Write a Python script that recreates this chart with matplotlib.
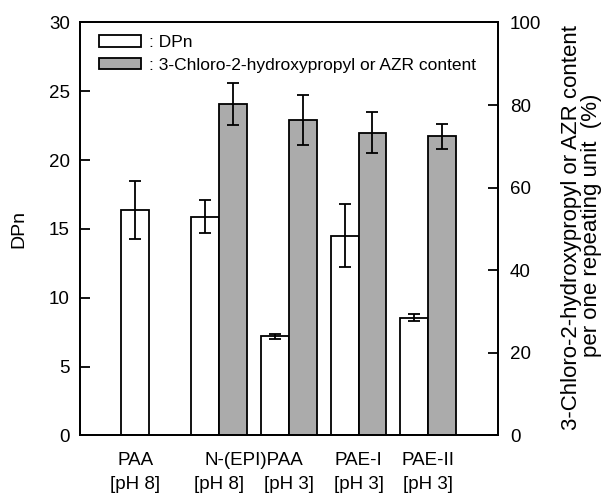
import matplotlib
matplotlib.use("Agg")
import matplotlib.pyplot as plt
from matplotlib.patches import Patch
from matplotlib.transforms import blended_transform_factory

plt.rcParams['font.family'] = ['Liberation Sans', 'DejaVu Sans']

# Data
groups = ["PAA", "N-(EPI)PAA [pH 8]", "N-(EPI)PAA [pH 3]", "PAE-I [pH 3]", "PAE-II [pH 3]"]
dpn = [16.4, 15.9, 7.2, 14.5, 8.55]
dpn_err = [2.1, 1.2, 0.2, 2.3, 0.25]
content_groups = [1, 2, 3, 4]
content = [80.2, 76.3, 73.3, 72.4]
content_err = [5.1, 6.1, 5.0, 3.1]
line1_labels = ["PAA", "N-(EPI)PAA", "PAE-I", "PAE-II"]
line1_pos = [-0.2, 1.5, 3, 4]
line2_labels = ["[pH 8]", "[pH 8]", "[pH 3]", "[pH 3]", "[pH 3]"]
line2_pos = [-0.2, 1, 2, 3, 4]

W, H = 610, 496
fig = plt.figure(figsize=(W / 100, H / 100), dpi=100)
ax = fig.add_axes([0.1305, 0.1222, 0.8164 - 0.1305, 0.9548 - 0.1222])
ax2 = ax.twinx()

lw = 1.3
w = 0.40
xs = list(range(len(groups)))
ax.bar([x - w / 2 for x in xs], dpn, width=w, color='white', edgecolor='black',
       linewidth=lw, yerr=dpn_err, capsize=4.3,
       error_kw=dict(elinewidth=lw, capthick=lw, ecolor='black'), zorder=2)
ax2.bar([x + w / 2 for x in content_groups], content, width=w, color='#ababab',
        edgecolor='black', linewidth=lw, yerr=content_err, capsize=4.3,
        error_kw=dict(elinewidth=lw, capthick=lw, ecolor='black'), zorder=2)

ax.set_xlim(-1, 5)
ax.set_ylim(0, 30)
ax2.set_ylim(0, 100)
ax.set_yticks([0, 5, 10, 15, 20, 25, 30])
ax2.set_yticks([0, 20, 40, 60, 80, 100])
ax.set_xticks([])
for a in (ax, ax2):
    for s in a.spines.values():
        s.set_linewidth(lw)
ax.tick_params(axis='y', direction='in', length=7, width=lw, pad=7, labelsize=13.5)
ax2.tick_params(axis='y', direction='in', length=7, width=lw, pad=8.5, labelsize=13.5)

# Axis labels
fig.text(19 / W, 0.5 * (0.1222 + 0.9548), "DPn", rotation=90, ha='center', va='center',
         fontsize=14)
fig.text(572 / W, 1 - 227.5 / H, "3-Chloro-2-hydroxypropyl or AZR content",
         rotation=90, ha='center', va='center', fontsize=16)
fig.text(592 / W, 1 - 225.5 / H, "per one repeating unit  (%)",
         rotation=90, ha='center', va='center', fontsize=16)

trans = blended_transform_factory(ax.transData, ax.transAxes)
for lab, p in zip(line1_labels, line1_pos):
    ax.text(p, -0.062, lab, transform=trans, ha='center', va='center', fontsize=13.5)
for lab, p in zip(line2_labels, line2_pos):
    ax.text(p, -0.120, lab, transform=trans, ha='center', va='center', fontsize=13.5)

handles = [Patch(facecolor='white', edgecolor='black', linewidth=lw),
           Patch(facecolor='#ababab', edgecolor='black', linewidth=lw)]
leg = ax2.legend(handles, [": DPn", ": 3-Chloro-2-hydroxypropyl or AZR content"],
                 loc='upper left', bbox_to_anchor=(0.046, 0.969), frameon=False,
                 borderpad=0, borderaxespad=0, fontsize=12.5, handlelength=2.4,
                 handleheight=0.63, handletextpad=0.5, labelspacing=0.42)

fig.savefig("out.png", dpi=100)
